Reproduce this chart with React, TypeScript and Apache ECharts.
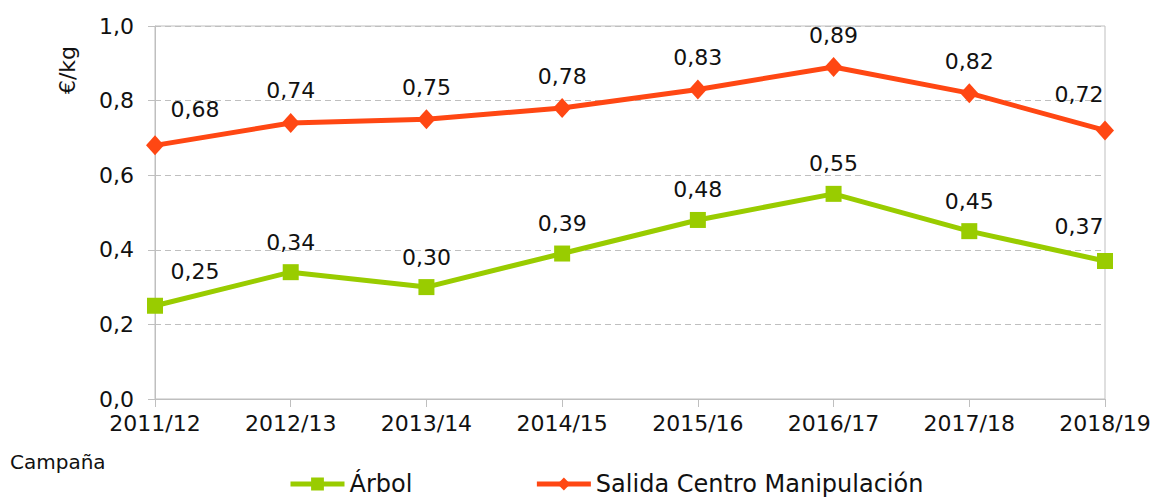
import React, { useEffect, useRef } from "react";
import * as echarts from "echarts";

const categories = ["2011/12", "2012/13", "2013/14", "2014/15", "2015/16", "2016/17", "2017/18", "2018/19"];
const arbol = [0.25, 0.34, 0.30, 0.39, 0.48, 0.55, 0.45, 0.37];
const salida = [0.68, 0.74, 0.75, 0.78, 0.83, 0.89, 0.82, 0.72];
const seriesNames = ["Árbol", "Salida Centro Manipulación"];
const yTicks = { min: 0, max: 1, interval: 0.2 };

const FONT = "DejaVu Sans";
const GREEN = "#99CC00";
const ORANGE = "#FF4713";
const AXIS = "#BFBFBF";

const fmt = (v: number) => v.toFixed(2).replace(".", ",");

function buildData(values: number[]) {
  return values.map((v, i) => {
    const item: any = { value: v };
    if (i === 0) item.label = { offset: [40, -4] };
    if (i === values.length - 1) item.label = { offset: [-26, -4] };
    return item;
  });
}

export default function App() {
  const ref = useRef<HTMLDivElement>(null);
  useEffect(() => {
    const chart = echarts.init(ref.current!, null, { renderer: "svg" });
    const labelCommon = {
      show: true,
      position: "top",
      distance: 11,
      fontFamily: FONT,
      fontSize: 22,
      color: "#111",
      formatter: (p: any) => fmt(p.value),
    };
    chart.setOption({
      animation: false,
      textStyle: { fontFamily: FONT },
      grid: {
        left: 155,
        right: 49,
        top: 26,
        bottom: 101,
        show: true,
        borderColor: AXIS,
        borderWidth: 1,
      },
      xAxis: {
        type: "category",
        data: categories,
        boundaryGap: false,
        axisLine: { lineStyle: { color: AXIS, width: 1 } },
        axisTick: { show: true, length: 8, lineStyle: { color: AXIS } },
        axisLabel: { color: "#111", fontSize: 22, fontFamily: FONT, margin: 13 },
      },
      yAxis: {
        type: "value",
        min: yTicks.min,
        max: yTicks.max,
        interval: yTicks.interval,
        axisLine: { show: true, lineStyle: { color: AXIS, width: 1 } },
        axisTick: { show: true, length: 7, lineStyle: { color: AXIS } },
        axisLabel: {
          color: "#111",
          fontSize: 22,
          fontFamily: FONT,
          margin: 21,
          formatter: (v: number) => v.toFixed(1).replace(".", ","),
        },
        splitLine: { show: true, lineStyle: { color: AXIS, type: [6, 4], width: 1 } },
      },
      legend: {
        left: 288,
        top: 472,
        padding: 0,
        itemWidth: 54,
        itemHeight: 16,
        itemGap: 122,
        lineStyle: { width: 5 },
        textStyle: { fontFamily: FONT, fontSize: 24, color: "#111" },
        data: seriesNames,
      },
      graphic: [
        {
          type: "text",
          left: 10,
          top: 452,
          style: { text: "Campaña", fontFamily: FONT, fontSize: 20, fill: "#111" },
        },
        {
          type: "text",
          x: 67,
          y: 70,
          rotation: Math.PI / 2,
          style: {
            text: "€/kg",
            fontFamily: FONT,
            fontSize: 22,
            fill: "#111",
            align: "center",
            verticalAlign: "middle",
          },
        },
      ],
      series: [
        {
          name: seriesNames[0],
          type: "line",
          data: buildData(arbol),
          symbol: "rect",
          symbolSize: 16,
          color: GREEN,
          lineStyle: { color: GREEN, width: 5 },
          itemStyle: { color: GREEN },
          label: labelCommon,
        },
        {
          name: seriesNames[1],
          type: "line",
          data: buildData(salida),
          symbol: "diamond",
          symbolSize: [18, 20],
          color: ORANGE,
          lineStyle: { color: ORANGE, width: 5 },
          itemStyle: { color: ORANGE },
          label: labelCommon,
        },
      ],
    });
    return () => chart.dispose();
  }, []);
  return <div ref={ref} style={{ width: 1154, height: 500, position: "absolute", left: 0, top: 0 }} />;
}
